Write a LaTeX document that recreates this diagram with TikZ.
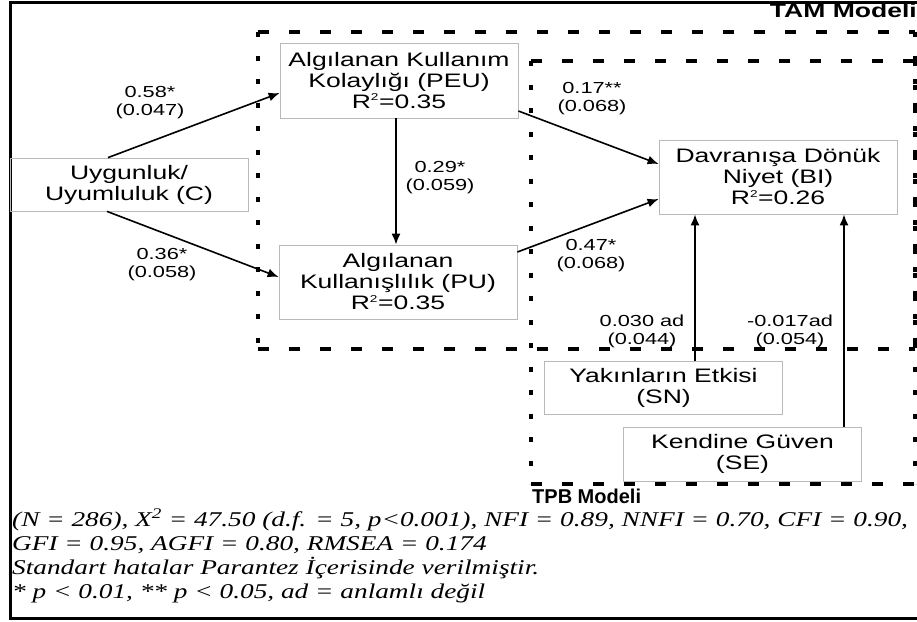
\documentclass[tikz,border=0pt]{standalone}
\usepackage{fontspec}
\usepackage{tikz}
\usetikzlibrary{arrows.meta}
\newfontfamily\boxfont[FakeStretch=1.36]{Liberation Sans}
\newfontfamily\notefont[FakeStretch=1.30]{Liberation Serif}
\newfontfamily\plainsans{Liberation Sans}
\newcommand{\rsq}{R\textsuperscript{\fontsize{10}{10}\selectfont 2}}

\begin{document}
\begin{tikzpicture}[x=1pt,y=-1pt,
        >={Latex[length=11pt,width=9pt]},
        varbox/.style={draw=gray!55, line width=0.8pt, align=center, inner sep=0pt,
            minimum width=238pt, font=\boxfont\fontsize{19.5}{21}\selectfont},
        coef/.style={align=center, inner sep=0pt, font=\boxfont\fontsize{16}{18}\selectfont},
        effect/.style={->, line width=1.6pt},
        hside/.style={line width=4pt, dash pattern=on 11pt off 20pt},
        vside/.style={line width=4pt, dash pattern=on 5pt off 18.5pt},
        note/.style={anchor=base west, inner sep=0pt, font=\notefont\itshape\fontsize{21}{24}\selectfont}]
        \useasboundingbox (0,0) rectangle (917,621);

        % frame
        \draw[line width=3pt] (919,2) -- (10,2) -- (10,618) -- (919,618);

        % variables
        \node[varbox, minimum height=53pt] (C) at (129,184.5) {Uygunluk/\\Uyumluluk (C)};
        \node[varbox, minimum height=75pt] (PEU) at (399,80.5) {Algılanan Kullanım\\Kolaylığı (PEU)\\\rsq=0.35};
        \node[varbox, minimum height=74pt] (PU) at (398,282) {Algılanan\\Kullanışlılık (PU)\\\rsq=0.35};
        \node[varbox, minimum height=74pt] (BI) at (778,177) {Davranışa Dönük\\Niyet (BI)\\\rsq=0.26};
        \node[varbox, minimum height=53pt] (SN) at (663.5,387.5) {Yakınların Etkisi\\(SN)};
        \node[varbox, minimum height=54pt] (SE) at (742.5,454) {Kendine Güven\\(SE)};

        % paths
        \draw[effect] ([xshift=-21pt]C.north) -- ([yshift=-12.5pt]PEU.west);
        \draw[effect] ([xshift=-22pt]C.south) -- ([yshift=5pt]PU.west);
        \draw[effect] ([xshift=-3pt]PEU.south) -- ([xshift=-2pt]PU.north);
        \draw[effect] ([yshift=-30.5pt]PEU.east) -- ([yshift=13pt]BI.west);
        \draw[effect] ([yshift=30pt]PU.east) -- ([yshift=-22pt]BI.west);
        \draw[effect] ([xshift=31.5pt]SN.north) -- ([xshift=-83pt]BI.south);
        \draw[effect] ([xshift=101.5pt]SE.north) -- ([xshift=66pt]BI.south);

        \node[coef] (c1) at (150,103) {0.58*\\(0.047)};
        \node[coef] (c2) at (162,265) {0.36*\\(0.058)};
        \node[coef] (c3) at (440,178) {0.29*\\(0.059)};
        \node[coef] (c4) at (592,99) {0.17**\\(0.068)};
        \node[coef] (c5) at (591,256) {0.47*\\(0.068)};
        \node[coef] (c6) at (642,331) {0.030 ad\\(0.044)};
        \node[coef] (c7) at (790,331) {-0.017ad\\(0.054)};

        % model boxes
        \draw[hside] (258,32) -- (915,32);
        \draw[hside] (258,349) -- (915,349);
        \draw[vside] (258,32) -- (258,349);
        \draw[vside] (915,32) -- (915,349);
        \draw[hside] (531,61) -- (915,61);
        \draw[hside] (531,484) -- (915,484);
        \draw[vside] (531,61) -- (531,484);
        \draw[vside] (915,61) -- (915,484);

        \node[anchor=base east, inner sep=0pt, font=\boxfont\bfseries\fontsize{19.5}{21}\selectfont] (tam) at (917,17) {TAM Modeli};
        \node[anchor=base west, inner sep=0pt, font=\plainsans\bfseries\fontsize{20}{24}\selectfont] (tpb) at (532,503) {TPB Modeli};

        % fit indices
        \node[note] (n1) at (12,526) {(N = 286), X\textsuperscript{2} = 47.50 (d.f. = 5, p<0.001), NFI = 0.89, NNFI = 0.70, CFI = 0.90,};
        \node[note] (n2) at (12,550) {GFI = 0.95, AGFI = 0.80, RMSEA = 0.174};
        \node[note] (n3) at (12,574) {Standart hatalar Parantez İçerisinde verilmiştir.};
        \node[note] (n4) at (12,598) {* p < 0.01, ** p < 0.05, ad = anlamlı değil};
    \end{tikzpicture}
\end{document}
